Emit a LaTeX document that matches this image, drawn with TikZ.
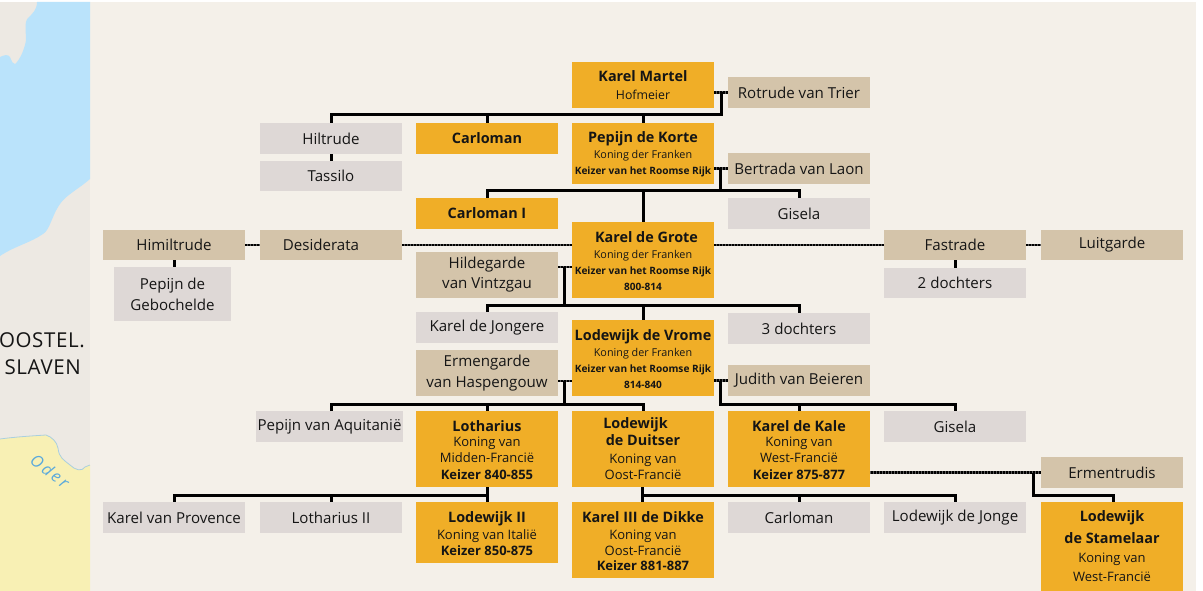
\documentclass[tikz,border=0pt]{standalone}
\usepackage{fontspec}
\setmainfont{Open Sans}
\definecolor{panel}{HTML}{F4F0E9}
\definecolor{gold}{HTML}{F0AE27}
\definecolor{beige}{HTML}{D4C4AA}
\definecolor{stone}{HTML}{DED8D6}
\definecolor{seab}{HTML}{BAE3FB}
\definecolor{landc}{HTML}{EDE9E3}
\definecolor{yel}{HTML}{F8F0B4}
\definecolor{riv}{HTML}{A9CFE0}
\definecolor{oderc}{HTML}{5AA9DC}
\definecolor{ink}{HTML}{151515}
\definecolor{marbase}{HTML}{5A5A5A}
\newcommand\tnm[1]{{\fontsize{14.4}{17}\selectfont\bfseries #1}}
\newcommand\tnt[1]{\rule{0pt}{13pt}\tnm{#1}}
\newcommand\tsb[1]{{\fontsize{10.8}{17}\selectfont #1}}
\newcommand\tsm[1]{{\fontsize{13}{17}\selectfont #1}}
\newcommand\thf[1]{{\fontsize{12.3}{17}\selectfont #1}}
\newcommand\tkz[1]{{\fontsize{10.1}{17}\selectfont\bfseries #1}}
\newcommand\tkm[1]{{\fontsize{13}{17}\selectfont\bfseries #1}}
\newcommand\bx[7]{%
  \pgfmathsetmacro\bw{#5-#3}\pgfmathsetmacro\bh{#6-#4}%
  \pgfmathsetmacro\cx{(#3+#5)/2}\pgfmathsetmacro\cy{(#4+#6)/2}%
  \node[#1,minimum width=\bw pt,minimum height=\bh pt] (#2) at (\cx,\cy) {#7};}
\tikzset{
  person/.style={inner sep=0pt,align=center,text=ink,font=\fontsize{15.1}{21}\selectfont},
  ruler/.style={person,fill=gold},
  spouse/.style={person,fill=beige},
  kinbox/.style={person,fill=stone},
  kin/.style={draw=black,line width=3pt,line join=miter},
  mar/.style={preaction={draw=marbase,line width=2.6pt},draw=black,line width=2.6pt,dash pattern=on 1.5pt off 1.5pt},
}
\begin{document}
\begin{tikzpicture}[x=1pt,y=-1pt]
\useasboundingbox (0,0) rectangle (1203,591);
\fill[white] (0,0) rectangle (1203,591);
\fill[landc] (0,2) rectangle (90,591);
\fill[panel] (90,2) rectangle (1196,591);
\fill[seab] (37,2) -- (90,2) -- (90,179) .. controls (80,188) and (66,195) .. (60,204)
  .. controls (52,215) and (50,230) .. (43,234) .. controls (30,243) and (15,246) .. (0,256)
  -- (0,57) .. controls (4,55) and (8,54) .. (10,57) .. controls (12,62) and (13,64) .. (15,64)
  .. controls (20,60) and (25,48) .. (26,40) .. controls (26,32) and (24,22) .. (28,18)
  .. controls (32,14) and (37,10) .. (37,2) -- cycle;
\fill[yel] (0,439) .. controls (15,437) and (30,436) .. (46,435) .. controls (52,437) and (57,442) .. (58,448)
  .. controls (59,458) and (64,460) .. (70,465) .. controls (75,470) and (82,472) .. (85,467) -- (90,465)
  -- (90,591) -- (0,591) -- cycle;
\draw[riv,line width=0.8pt] (0,439) .. controls (15,437) and (30,436) .. (46,435) .. controls (52,437) and (57,442) .. (58,448)
  .. controls (59,458) and (64,460) .. (70,465) .. controls (75,470) and (82,472) .. (85,467) -- (90,465);
\begin{scope}
\clip (0,2) rectangle (90,591);
\node[anchor=base east,inner sep=0pt,text=ink,font=\fontsize{20.5}{24}\selectfont] (oostel) at (85,347) {\addfontfeature{LetterSpace=3}OOSTEL.};
\node[anchor=base east,inner sep=0pt,text=ink,font=\fontsize{20.5}{24}\selectfont] (slaven) at (81,374) {\addfontfeature{LetterSpace=3}SLAVEN};
\node[rotate=-38,inner sep=0pt,text=oderc,font=\fontsize{16.5}{18}\selectfont\itshape] (oder) at (50,471) {\addfontfeature{LetterSpace=16}Oder};
\end{scope}
% row 1
\bx{ruler}{martel}{572}{62}{714}{108}{\tnm{Karel Martel}\\[-3pt]\thf{Hofmeier}}
\bx{spouse}{rotrude}{728}{77}{870}{108}{Rotrude van Trier}
\bx{kinbox}{hiltrude}{260}{123}{402}{154}{Hiltrude}
\bx{kinbox}{tassilo}{260}{161}{402}{191}{Tassilo}
\bx{ruler}{carloman}{416}{123}{558}{154}{\tnm{Carloman}}
\bx{ruler}{pepijn}{572}{123}{714}{184}{\tnt{Pepijn de Korte}\\[-5pt]\tsb{Koning der Franken}\\[-5pt]\tkz{Keizer van het Roomse Rijk}}
\bx{spouse}{bertrada}{728}{153}{870}{184}{Bertrada van Laon}
\bx{ruler}{carlomani}{416}{198}{558}{229}{\tnm{Carloman I}}
\bx{kinbox}{giselaa}{728}{198}{870}{229}{Gisela}
\bx{spouse}{himiltrude}{103}{230}{245}{260}{Himiltrude}
\bx{spouse}{desiderata}{260}{230}{402}{260}{Desiderata\hspace*{20pt}}
\bx{ruler}{grote}{572}{222}{714}{298}{\hspace*{7pt}\tnt{Karel de Grote}\\[-5pt]\tsb{Koning der Franken}\\[-5pt]\tkz{Keizer van het Roomse Rijk}\\[-5pt]\tkz{800-814}}
\bx{spouse}{fastrade}{884}{230}{1026}{260}{Fastrade}
\bx{spouse}{luitgarde}{1041}{230}{1183}{260}{Luitgarde}
\bx{spouse}{hildegarde}{416}{252}{558}{298}{Hildegarde\\[-1pt]van Vintzgau}
\bx{kinbox}{gebochelde}{114}{267}{231}{321}{Pepijn de\\[0pt]Gebochelde}
\bx{kinbox}{dochterstwee}{884}{268}{1026}{298}{2 dochters}
\bx{kinbox}{jongere}{416}{312}{558}{343}{Karel de Jongere}
\bx{kinbox}{dochtersdrie}{728}{313}{870}{344}{3 dochters}
\bx{ruler}{vrome}{572}{320}{714}{396}{\tnt{Lodewijk de Vrome}\\[-5pt]\tsb{Koning der Franken}\\[-5pt]\tkz{Keizer van het Roomse Rijk}\\[-5pt]\tkz{814-840}}
\bx{spouse}{ermengarde}{416}{350}{558}{396}{Ermengarde\\[0pt]van Haspengouw}
\bx{spouse}{judith}{728}{365}{870}{396}{Judith van Beieren}
\bx{kinbox}{aquitanie}{256}{411}{403}{442}{Pepijn van Aquitanië}
\bx{ruler}{lotharius}{416}{411}{558}{487}{\tnt{Lotharius}\\[-6pt]\tsm{Koning van}\\[-5pt]\tsm{Midden-Francië}\\[-4pt]\tkm{Keizer 840-855}}
\bx{ruler}{duitser}{572}{411}{714}{487}{\hspace*{-15pt}\tnm{Lodewijk}\\[-4pt]\tnm{de Duitser}\\[-3pt]\tsm{Koning van}\\[-5pt]\tsm{Oost-Francië}}
\bx{ruler}{kale}{728}{411}{870}{487}{\tnt{Karel de Kale}\\[-6pt]\tsm{Koning van}\\[-5pt]\tsm{West-Francië}\\[-4pt]\tkm{Keizer 875-877}}
\bx{kinbox}{giselab}{884}{411}{1026}{442}{Gisela}
\bx{spouse}{ermentrudis}{1041}{457}{1183}{488}{Ermentrudis}
\bx{kinbox}{provence}{103}{502}{245}{533}{Karel van Provence}
\bx{kinbox}{lothariusii}{260}{502}{402}{533}{Lotharius II}
\bx{ruler}{lodewijkii}{416}{502}{558}{563}{\tnt{Lodewijk II}\\[-4pt]\tsm{Koning van Italië}\\[-5pt]\tkm{Keizer 850-875}}
\bx{ruler}{dikke}{572}{502}{714}{578}{\tnt{Karel III de Dikke}\\[-4pt]\tsm{Koning van}\\[-5pt]\tsm{Oost-Francië}\\[-6pt]\tkm{Keizer 881-887}}
\bx{kinbox}{carlomanb}{728}{502}{870}{533}{Carloman}
\bx{kinbox}{jonge}{884}{502}{1026}{533}{Lodewijk de Jonge}
\bx{ruler}{stamelaar}{1041}{502}{1183}{591}{\tnm{Lodewijk}\\[1pt]\tnm{de Stamelaar}\\[-2pt]\tsm{Koning van}\\[-2pt]\tsm{West-Francië}}
% junctions
\coordinate (ja) at (721,115);
\coordinate (jb) at (720,191);
\coordinate (jc) at (564.5,305);
\coordinate (mc) at (564.5,267);
\coordinate (jd) at (564.5,404);
\coordinate (md) at (564.5,381);
\coordinate (je) at (720,404);
\coordinate (jf) at (487,495);
\coordinate (jg) at (642,495);
\coordinate (jh) at (1033,495);
\coordinate (aqtop) at (331,411);
\coordinate (dutop) at (643,411);
\coordinate (dubot) at (642,487);
\coordinate (stop) at (1113,502);
% marriages
\draw[mar] (rotrude.west) -- (rotrude.west -| martel.east);
\draw[mar] (bertrada.west) -- (bertrada.west -| pepijn.east);
\draw[mar] (himiltrude.east) -- (desiderata.west);
\draw[mar] (desiderata.east) -- (desiderata.east -| grote.west);
\draw[mar] (fastrade.west) -- (fastrade.west -| grote.east);
\draw[mar] (fastrade.east) -- (luitgarde.west);
\draw[mar] (mc -| hildegarde.east) -- (mc -| grote.west);
\draw[mar] (md -| ermengarde.east) -- (md -| vrome.west);
\draw[mar] (judith.west) -- (judith.west -| vrome.east);
\draw[mar] (ermentrudis.west) -- (ermentrudis.west -| kale.east);
% descent
\draw[kin] (hiltrude.north) |- (ja) -- (ja |- rotrude.west);
\draw[kin] (carloman.north) -- (carloman.north |- ja);
\draw[kin] (pepijn.north) -- (pepijn.north |- ja);
\draw[kin] (hiltrude.south) -- (tassilo.north);
\draw[kin] (himiltrude.south) -- (himiltrude.south |- gebochelde.north);
\draw[kin] (fastrade.south) -- (dochterstwee.north);
\draw[kin] (carlomani.north) |- (jb) -- (jb |- bertrada.west);
\draw[kin] (giselaa.north) |- (jb);
\draw[kin] (grote.north) -- (grote.north |- jb);
\draw[kin] (jongere.north) |- (jc) -- (mc);
\draw[kin] (dochtersdrie.north) |- (jc);
\draw[kin] (vrome.north) -- (vrome.north |- jc);
\draw[kin] (aqtop) |- (dutop |- jd) -- (dutop);
\draw[kin] (jd) -- (md);
\draw[kin] (lotharius.north) -- (lotharius.north |- jd);
\draw[kin] (je |- judith.west) -- (je) -| (giselab.north);
\draw[kin] (kale.north) -- (kale.north |- je);
\draw[kin] (lotharius.south) -- (lodewijkii.north);
\draw[kin] (provence.north) |- (jf);
\draw[kin] (lothariusii.north) -- (lothariusii.north |- jf);
\draw[kin] (dubot) -- (dubot |- dikke.north);
\draw[kin] (jg) -| (jonge.north);
\draw[kin] (carlomanb.north) -- (carlomanb.north |- jg);
\draw[kin] (jh |- ermentrudis.west) -- (jh) -| (stop);
\end{tikzpicture}
\end{document}
